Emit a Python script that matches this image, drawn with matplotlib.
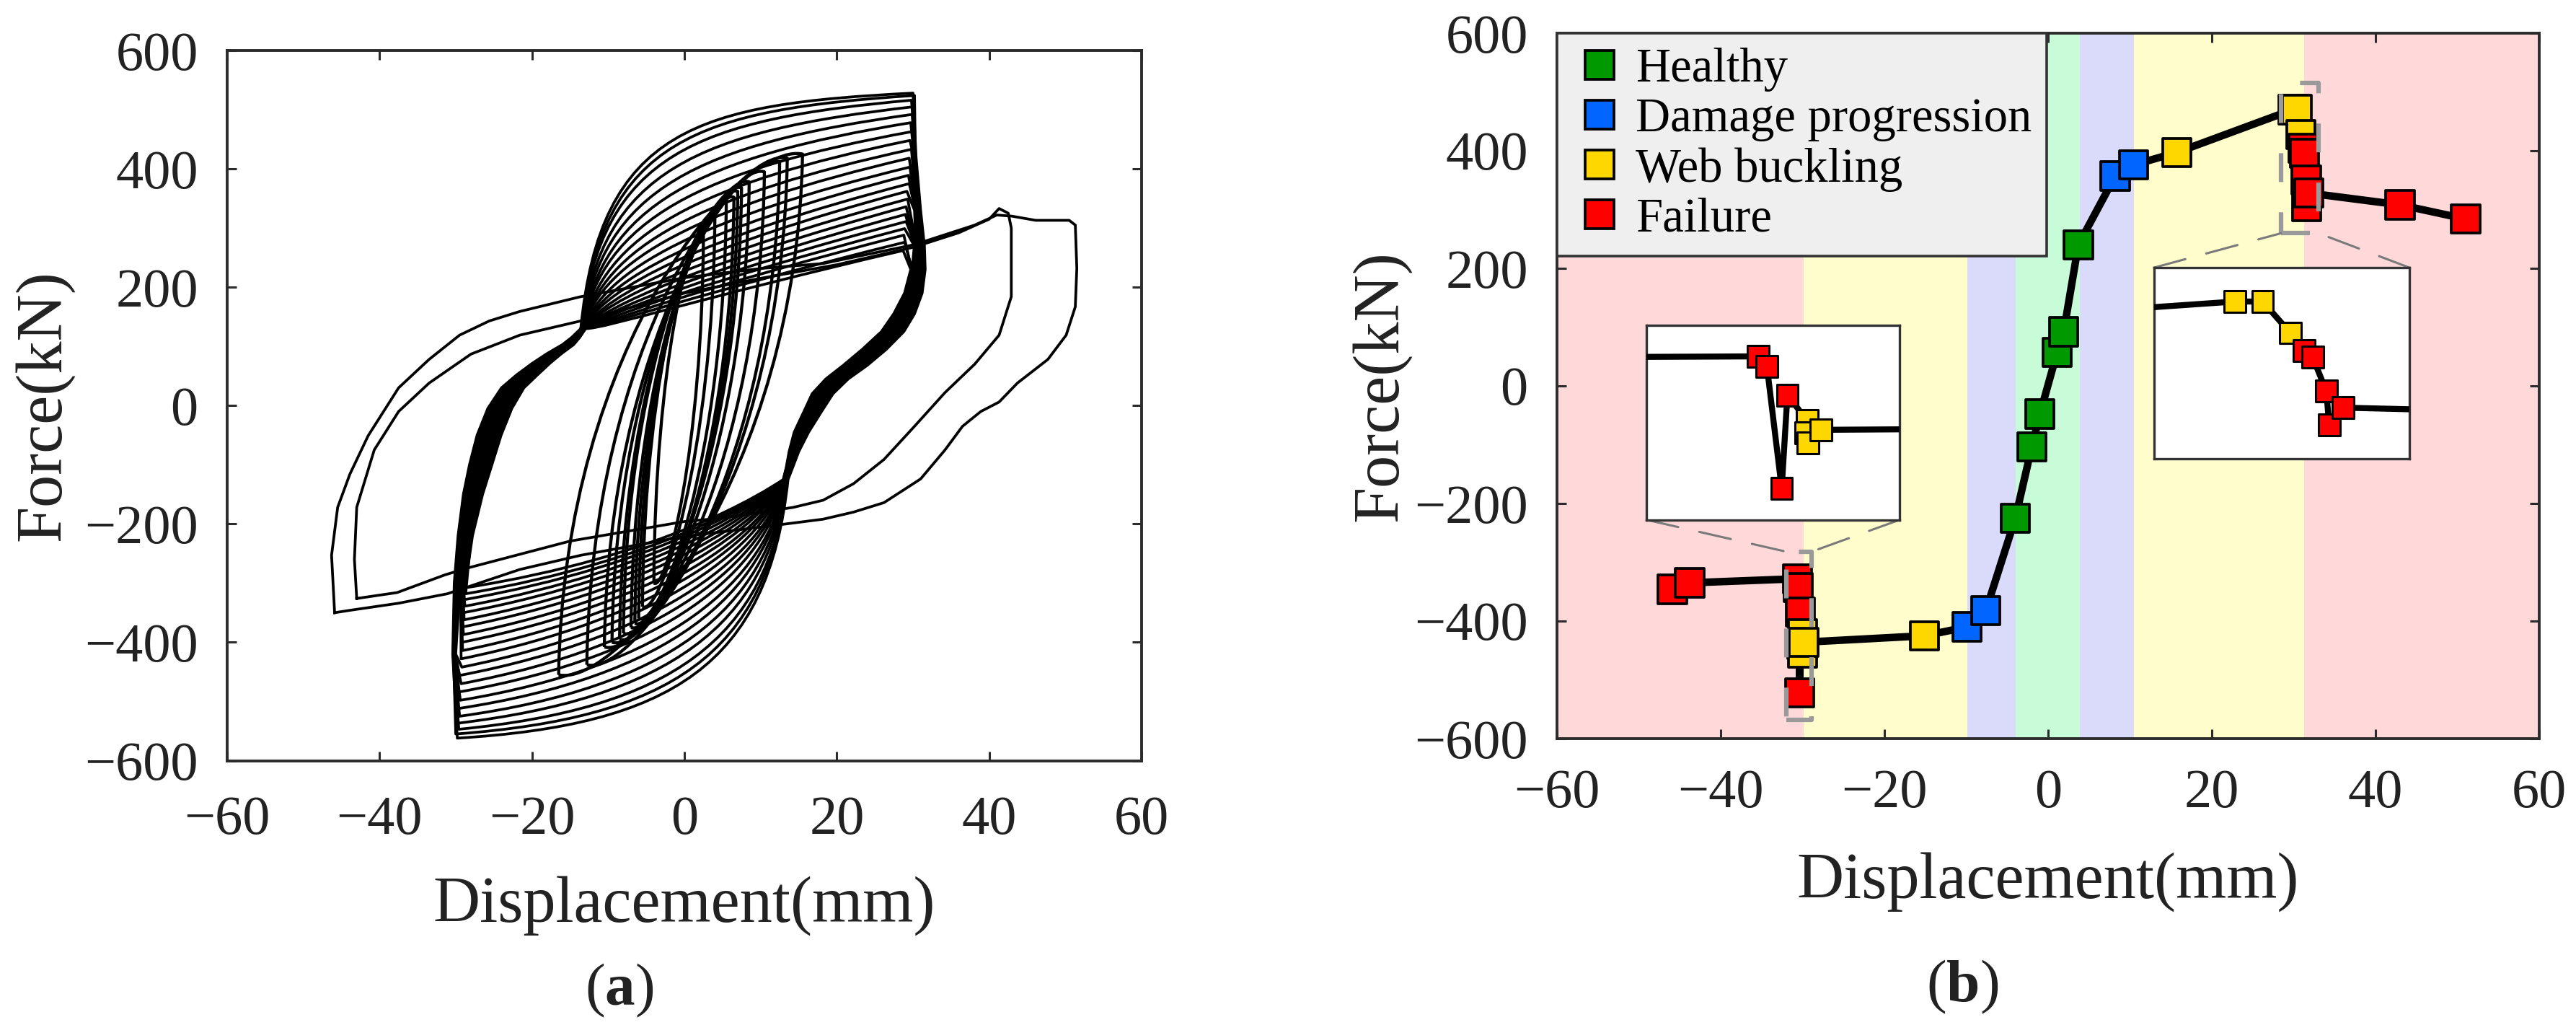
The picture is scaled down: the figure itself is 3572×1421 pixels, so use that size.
import matplotlib
matplotlib.use('Agg')
import matplotlib.pyplot as plt
from matplotlib.path import Path
from matplotlib.patches import PathPatch, Rectangle, ConnectionPatch
from matplotlib.lines import Line2D

plt.rcParams['font.family'] = ['Liberation Serif', 'DejaVu Serif']
plt.rcParams['mathtext.fontset'] = 'custom'
plt.rcParams['mathtext.rm'] = 'Liberation Serif'
plt.rcParams['mathtext.bf'] = 'Liberation Serif:bold'
plt.rcParams['axes.unicode_minus'] = True

# ---------------- Panel (a) data: hysteresis loops ----------------
# large +/-30 mm cycles: upper branch (peak force, Bezier control forces), lower branch
big_top_F = [528, 524, 516, 505, 492, 478, 463, 448, 433, 418, 403, 389, 375, 362, 349, 336, 323, 311, 299, 288, 276, 262]
big_top_c1 = [470, 452, 428, 398, 368, 340, 314, 290, 268, 248, 230, 214, 200, 188, 177, 167, 159, 152, 146, 140, 135, 130]
big_top_c2 = [510, 500, 484, 464, 442, 420, 398, 376, 356, 336, 318, 300, 284, 269, 255, 242, 230, 220, 210, 201, 192, 184]
big_top_d = [30.0, 30.2, 29.8, 30.1, 29.9, 29.7, 29.9, 29.6, 29.8, 29.5, 29.6, 29.4, 29.5, 29.2, 29.3, 29.1, 29.0, 29.1, 28.9, 28.8, 28.9, 28.7]
big_bot_F = [-562, -555, -547, -537, -525, -512, -498, -484, -470, -456, -442, -428, -414, -400, -387, -374, -362, -350, -339, -328, -318, -308]
big_bot_c1 = [-440, -422, -398, -372, -346, -322, -300, -280, -262, -246, -232, -219, -208, -198, -189, -181, -174, -167, -161, -156, -151, -147]
big_bot_c2 = [-540, -528, -512, -494, -476, -458, -440, -422, -405, -389, -373, -358, -344, -331, -318, -306, -295, -285, -276, -268, -261, -255]
big_bot_d = [-29.8, -30.0, -29.6, -29.9, -29.5, -29.7, -29.4, -29.6, -29.3, -29.5, -29.2, -29.3, -29.1, -29.2, -29.0, -29.1, -28.9, -29.0, -28.8, -28.9, -28.7, -28.8]
band_shift = [0.0, 0.3, 0.2, 0.5, 0.6, 0.8, 0.7, 1.0, 1.1, 1.0, 1.3, 1.4, 1.3, 1.6, 1.5, 1.7, 1.8, 1.7, 1.9, 2.0, 1.9, 2.1]

# pinched unloading bands (S-shaped)
right_band_d = [30.4, 31.0, 31.5, 31.6, 31.2, 30.2, 28.8, 26.5, 24.0, 21.5, 19.5, 18.0, 16.3, 15.0, 14.2, 13.6]
right_band_F = [420, 330, 270, 230, 190, 155, 125, 95, 68, 45, 20, -10, -45, -78, -105, -125]
right_band_spread = [0.3, 0.5, 0.7, 0.9, 1.1, 1.3, 1.4, 1.5, 1.5, 1.4, 1.3, 1.1, 0.9, 0.6, 0.4, 0.3]
left_band_d = [-30.4, -30.2, -29.7, -29.0, -28.2, -27.2, -25.8, -24.0, -22.0, -20.0, -18.0, -16.0, -14.8, -13.6]
left_band_F = [-420, -300, -220, -150, -100, -50, -5, 30, 52, 71, 88, 103, 115, 130]
left_band_spread = [0.3, 0.6, 0.9, 1.2, 1.4, 1.5, 1.5, 1.4, 1.3, 1.1, 0.9, 0.7, 0.5, 0.3]

# small early cycles (peak displacement / force)
small_dp = [2.5, 4.0, 5.5, 6.5, 7.0, 7.5, 8.5, 10.5, 12.5, 13.5, 15.5]
small_Fp = [290, 322, 345, 352, 362, 368, 378, 395, 412, 418, 425]
small_dn = [-4.0, -5.5, -6.0, -6.5, -7.0, -8.0, -8.5, -9.5, -10.5, -12.8, -16.5]
small_Fn = [-300, -340, -360, -368, -375, -385, -395, -400, -408, -438, -455]

# final post-failure cycles
final1_d = [-43.0, -43.3, -43.0, -40.7, -37.5, -33.5, -28.0, -21.6, -13.6, 0.0, 10.0, 20.0, 30.2, 36.0,
            40.0, 41.3, 42.5, 42.9, 42.9, 41.3, 38.1, 34.2, 30.2, 26.2, 22.2, 18.2, 14.3, 5.0, 0.0,
            -15.0, -28.3, -31.4, -37.7, -43.0]
final1_F = [-326, -260, -172, -75, -10, 38, 87, 119, 143, 190, 215, 238, 268, 292,
            315, 333, 325, 300, 184, 119, 70, 22, -35, -91, -132, -160, -172, -190, -196,
            -229, -274, -286, -316, -326]
final2_d = [-45.9, -46.3, -45.5, -43.9, -41.5, -37.5, -33.5, -29.5, -25.6, -21.6, -13.6, 0.0, 10.3, 18.2,
            30.2, 38.1, 41.0, 43.0, 46.1, 48.5, 50.5, 51.3, 51.5, 51.3, 50.1, 47.7, 43.7, 41.3, 38.9,
            36.5, 34.2, 31.0, 26.2, 22.2, 18.2, 10.3, 0.0, -13.6, -21.6, -31.1, -37.5, -43.9, -45.9]
final2_F = [-350, -253, -172, -116, -51, 30, 78, 119, 143, 159, 184, 216, 232, 240,
            272, 305, 322, 320, 313, 313, 313, 305, 232, 167, 119, 78, 38, 6, -10,
            -35, -75, -124, -164, -180, -192, -205, -221, -253, -277, -318, -334, -346, -350]

# ---------------- Panel (b) data ----------------
disp_b = [-45.9, -43.8, -30.63, -30.52, -30.34, -30.27, -30.03, -30.05, -30.02, -29.86, -15.1,
          -9.9, -7.6, -4.0, -2.0, -1.0, 1.1, 1.9, 3.7, 8.2, 10.45, 15.7,
          29.9, 30.4, 30.9, 31.15, 31.3, 31.55, 31.6, 31.85, 43.0, 51.0]
force_b = [-346, -335, -328, -343, -522, -385, -422, -440, -455, -436, -425,
           -410, -382, -225, -104, -48, 57, 92, 240, 357, 376, 397,
           470, 470, 428, 404, 396, 350, 305, 328, 308, 284]
stage_b = (['Failure'] * 6 + ['Web buckling'] * 5 + ['Damage progression'] * 2 + ['Healthy'] * 6
           + ['Damage progression'] * 2 + ['Web buckling'] * 4 + ['Failure'] * 7)
stages = ['Healthy', 'Damage progression', 'Web buckling', 'Failure']
band_edges = [-60, -29.9, -9.84, -3.96, 3.85, 10.48, 31.3, 60]
band_stage = ['Failure', 'Web buckling', 'Damage progression', 'Healthy', 'Damage progression', 'Web buckling', 'Failure']
left_zoom_x = (-31.99, -28.9)
left_zoom_y = (-568.4, -282.0)
right_zoom_x = (28.44, 33.05)
right_zoom_y = (259.6, 515.4)

marker_color = {'Healthy': '#009900', 'Damage progression': '#0066FF',
                'Web buckling': '#FFD700', 'Failure': '#FF0000'}
band_color = {'Healthy': '#C8FCD8', 'Damage progression': '#DADAFA',
              'Web buckling': '#FFFDCC', 'Failure': '#FFD9D9'}

SPINE = '#2b2b2b'
TICK_FS = 55
LABEL_FS = 65

fig = plt.figure(figsize=(35.72, 14.21), dpi=100)

# ======================= Panel (a) =======================
axa = fig.add_axes([315 / 3572, 1 - 1054.5 / 1421, 1268 / 3572, 984.5 / 1421])
LW_A = 2.7


def big_cycle(i):
    sh = band_shift[i]
    verts, codes = [], []
    x0 = left_band_d[-1] + left_band_spread[-1] * sh
    y0 = left_band_F[-1]
    verts.append((x0, y0)); codes.append(Path.MOVETO)
    verts += [(x0 + 2.6, big_top_c1[i]), (x0 + 15.6, big_top_c2[i]), (big_top_d[i], big_top_F[i])]
    codes += [Path.CURVE4] * 3
    for d, f, s in zip(right_band_d, right_band_F, right_band_spread):
        if f < big_top_F[i] - 20:
            verts.append((d - s * sh, f)); codes.append(Path.LINETO)
    xe = verts[-1][0]
    verts += [(xe - 2.6, big_bot_c1[i]), (xe - 15.6, big_bot_c2[i]), (big_bot_d[i], big_bot_F[i])]
    codes += [Path.CURVE4] * 3
    for d, f, s in zip(left_band_d, left_band_F, left_band_spread):
        if f > big_bot_F[i] + 20:
            verts.append((d + s * sh, f)); codes.append(Path.LINETO)
    return Path(verts, codes)


def small_loop(dp, fp, dn, fn):
    w = dp - dn
    verts = [(dn, fn), (dn + 0.02 * w, 0.25 * fp), (dp - 0.25 * w, fp * 1.05), (dp, fp),
             (dp - 0.02 * w, 0.25 * fn), (dn + 0.25 * w, fn * 1.05), (dn, fn)]
    codes = [Path.MOVETO] + [Path.CURVE4] * 6
    return Path(verts, codes)


for i in range(len(big_top_F)):
    axa.add_patch(PathPatch(big_cycle(i), fill=False, edgecolor='black', lw=LW_A,
                            joinstyle='round', capstyle='round'))
for dp, fp, dn, fn in zip(small_dp, small_Fp, small_dn, small_Fn):
    axa.add_patch(PathPatch(small_loop(dp, fp, dn, fn), fill=False, edgecolor='black',
                            lw=LW_A + 0.4, joinstyle='round'))
axa.plot(final1_d, final1_F, color='black', lw=LW_A, solid_joinstyle='round')
axa.plot(final2_d, final2_F, color='black', lw=LW_A, solid_joinstyle='round')

axa.set_xlim(-60, 60)
axa.set_ylim(-600, 600)
axa.set_xticks([-60, -40, -20, 0, 20, 40, 60])
axa.set_yticks([-600, -400, -200, 0, 200, 400, 600])
axa.tick_params(direction='in', top=True, right=True, length=9.6, width=2.2, color=SPINE,
                labelsize=TICK_FS, labelcolor='#222222')
axa.tick_params(axis='x', pad=35)
axa.tick_params(axis='y', pad=29)
for sp in axa.spines.values():
    sp.set_linewidth(2.8)
    sp.set_color(SPINE)
axa.set_xlabel('Displacement(mm)', fontsize=LABEL_FS, color='#222222', va='center')
axa.xaxis.set_label_coords(0.5, -(1256 - 1054.5) / 984.5)
axa.set_ylabel('Force(kN)', fontsize=LABEL_FS, color='#222222', va='center')
axa.yaxis.set_label_coords((61 - 315) / 1268, 0.5)
fig.text(859 / 3572, 1 - 1373 / 1421, r'($\mathbf{a}$)', fontsize=60, ha='center', va='center',
         color='#222222')

# ======================= Panel (b) =======================
axb = fig.add_axes([2159 / 3572, 1 - 1024 / 1421, 1362 / 3572, 978 / 1421])
for k in range(len(band_stage)):
    axb.axvspan(band_edges[k], band_edges[k + 1], color=band_color[band_stage[k]], lw=0, zorder=0)

LINE_LW = 7.5
MS = 28.3
MEW = 2.7
axb.plot(disp_b, force_b, color='black', lw=LINE_LW, zorder=3, solid_joinstyle='round')
axb.scatter(disp_b, force_b, s=MS ** 2, marker='s', c=[marker_color[s] for s in stage_b],
            edgecolors='black', linewidths=MEW, zorder=4)

axb.set_xlim(-60, 60)
axb.set_ylim(-600, 600)
axb.set_xticks([-60, -40, -20, 0, 20, 40, 60])
axb.set_yticks([-600, -400, -200, 0, 200, 400, 600])
axb.tick_params(direction='in', top=True, right=True, length=9.6, width=2.2, color=SPINE,
                labelsize=TICK_FS, labelcolor='#222222')
axb.tick_params(axis='x', pad=30)
axb.tick_params(axis='y', pad=29)
for sp in axb.spines.values():
    sp.set_linewidth(2.8)
    sp.set_color(SPINE)
    sp.set_zorder(10)
axb.set_xlabel('Displacement(mm)', fontsize=LABEL_FS, color='#222222', va='center')
axb.xaxis.set_label_coords(0.5, -(1222.8 - 1024) / 978)
axb.set_ylabel('Force(kN)', fontsize=LABEL_FS, color='#222222', va='center')
axb.yaxis.set_label_coords((1915 - 2159) / 1362, 0.5)
fig.text(2721 / 3572, 1 - 1368 / 1421, r'($\mathbf{b}$)', fontsize=60, ha='center', va='center',
         color='#222222')

handles = [Line2D([], [], ls='none', marker='s', markersize=MS, markerfacecolor=marker_color[s],
                  markeredgecolor='black', markeredgewidth=MEW) for s in stages]
leg = axb.legend(handles, stages, loc='upper left', bbox_to_anchor=(0, 1), borderaxespad=0,
                 fontsize=48, frameon=True, fancybox=False, facecolor='#EFEFEF',
                 edgecolor='#333333', framealpha=1, borderpad=0.3, labelspacing=0.12,
                 handlelength=1.17, handletextpad=0.17)
leg.get_frame().set_linewidth(2.6)
leg.set_zorder(12)


def make_inset(rect, xlim, ylim):
    ax = fig.add_axes(rect)
    ax.set_facecolor('white')
    ax.plot(disp_b, force_b, color='black', lw=6.0, zorder=3, solid_joinstyle='round')
    ax.scatter(disp_b, force_b, s=21.5 ** 2, marker='s', c=[marker_color[s] for s in stage_b],
               edgecolors='black', linewidths=2.2, zorder=4)
    ax.set_xlim(*xlim)
    ax.set_ylim(*ylim)
    ax.set_xticks([])
    ax.set_yticks([])
    for sp in ax.spines.values():
        sp.set_linewidth(2.4)
        sp.set_color('#333333')
    ax.set_zorder(15)
    return ax


ins_l = make_inset([2283.3 / 3572, 1 - 720.7 / 1421, 350.7 / 3572, 270 / 1421], left_zoom_x, left_zoom_y)
ins_r = make_inset([2987 / 3572, 1 - 636 / 1421, 354 / 3572, 265 / 1421], right_zoom_x, right_zoom_y)

for (xl, yl) in [(left_zoom_x, left_zoom_y), (right_zoom_x, right_zoom_y)]:
    r = Rectangle((xl[0], yl[0]), xl[1] - xl[0], yl[1] - yl[0], fill=False, edgecolor='#9a9a9a',
                  lw=4.5, zorder=8, joinstyle='round')
    r.set_linestyle((0, (6.4, 6.7)))
    axb.add_patch(r)

conn_style = dict(color='#7a7a7a', lw=2.2, linestyle=(0, (14.7, 9.8)), zorder=7)
for xa, xb in [((0, 0), (left_zoom_x[0], left_zoom_y[1])), ((1, 0), (left_zoom_x[1], left_zoom_y[1]))]:
    cp = ConnectionPatch(xyA=xa, coordsA=ins_l.transAxes, xyB=xb, coordsB=axb.transData, **conn_style)
    fig.add_artist(cp)
for xa, xb in [((0, 1), (right_zoom_x[0], right_zoom_y[0])), ((1, 1), (right_zoom_x[1], right_zoom_y[0]))]:
    cp = ConnectionPatch(xyA=xa, coordsA=ins_r.transAxes, xyB=xb, coordsB=axb.transData, **conn_style)
    fig.add_artist(cp)

fig.savefig('out.png', dpi=100, facecolor='white')
